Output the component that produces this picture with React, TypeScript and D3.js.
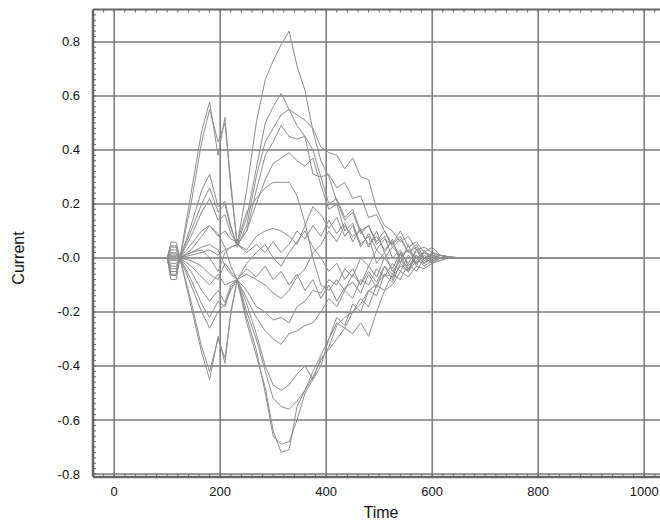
import React from "react";
import * as d3 from "d3";

// time samples shared by every trace
const T = [10, 100, 107, 117, 124, 145, 165, 180, 196, 209, 220, 232, 250, 268, 285, 300, 315, 330, 345, 360, 375, 390, 405, 420, 435, 450, 465, 480, 495, 510, 525, 540, 555, 570, 585, 600, 615, 630, 645, 665, 700, 1000];

const sA = [0, 0, 0.058, 0.058, 0, 0.24, 0.47, 0.577, 0.38, 0.52, 0.26, 0.05, 0.25, 0.5, 0.66, 0.73, 0.79, 0.84, 0.71, 0.62, 0.47, 0.36, 0.3, 0.21, 0.14, 0.17, 0.09, 0.12, 0.06, 0.1, 0.04, 0.07, 0.02, 0.05, 0.0, 0.02, 0.01, 0.005, 0.002, 0, 0, 0];
const sB = [0, 0, 0.045, 0.045, 0, 0.2, 0.43, 0.55, 0.43, 0.5, 0.28, 0.05, 0.15, 0.33, 0.5, 0.56, 0.61, 0.55, 0.53, 0.51, 0.48, 0.41, 0.39, 0.38, 0.33, 0.37, 0.3, 0.29, 0.18, 0.12, 0.1, 0.06, 0.08, 0.03, 0.04, 0.02, 0.01, 0.005, 0.002, 0, 0, 0];
const sC = [0, 0, 0.04, 0.04, 0, 0.12, 0.25, 0.31, 0.19, 0.21, 0.12, 0.04, 0.12, 0.3, 0.43, 0.48, 0.53, 0.55, 0.49, 0.45, 0.4, 0.3, 0.31, 0.26, 0.28, 0.22, 0.23, 0.15, 0.16, 0.1, 0.05, 0.08, 0.02, 0.04, -0.01, 0.01, 0.0, 0.0, 0, 0, 0, 0];
const sD = [0, 0, 0.03, 0.03, 0, 0.1, 0.2, 0.26, 0.17, 0.2, 0.11, 0.05, 0.1, 0.25, 0.38, 0.43, 0.49, 0.45, 0.44, 0.45, 0.31, 0.3, 0.2, 0.22, 0.15, 0.18, 0.1, 0.12, 0.05, 0.08, 0.0, 0.03, -0.03, 0.01, -0.02, 0.0, 0.01, 0.0, 0, 0, 0, 0];
const sE = [0, 0, 0.02, 0.02, 0, 0.08, 0.17, 0.22, 0.14, 0.16, 0.09, 0.05, 0.1, 0.2, 0.29, 0.35, 0.37, 0.39, 0.36, 0.34, 0.37, 0.27, 0.18, 0.2, 0.1, 0.13, 0.05, 0.08, -0.02, 0.02, -0.05, -0.01, -0.04, 0.0, -0.03, -0.01, 0.0, 0.0, 0, 0, 0, 0];
const sF = [0, 0, 0.015, 0.015, 0, 0.05, 0.1, 0.12, 0.08, 0.1, 0.07, 0.06, 0.17, 0.22, 0.26, 0.28, 0.28, 0.28, 0.23, 0.13, 0.0, -0.1, -0.12, -0.08, -0.12, -0.06, -0.1, -0.03, -0.07, 0.0, -0.04, 0.02, -0.02, 0.03, 0.0, 0.01, 0.0, 0.0, 0, 0, 0, 0];
const sG = [0, 0, 0.01, 0.01, 0, 0.02, 0.03, 0.0, -0.05, 0.02, 0.04, 0.05, 0.03, 0.08, 0.1, 0.11, 0.1, 0.08, 0.05, 0.12, 0.19, 0.16, 0.11, 0.15, 0.08, 0.12, 0.04, 0.09, 0.03, 0.07, 0.05, 0.1, 0.04, 0.06, 0.02, 0.04, 0.01, 0.005, 0, 0, 0, 0];
const sI = [0, 0, 0.005, 0.005, 0, 0.01, 0.02, 0.03, 0.01, 0.03, 0.04, 0.05, 0.02, 0.05, 0.02, 0.06, 0.02, 0.05, 0.1, 0.07, 0.12, 0.08, 0.14, 0.09, 0.13, 0.06, 0.11, 0.04, 0.1, 0.02, 0.07, -0.02, 0.05, -0.03, 0.03, -0.02, 0.01, 0.0, 0, 0, 0, 0];
const sa = [0, 0, -0.08, -0.08, 0, -0.18, -0.35, -0.45, -0.29, -0.39, -0.2, -0.08, -0.24, -0.36, -0.48, -0.64, -0.72, -0.71, -0.55, -0.49, -0.44, -0.38, -0.33, -0.25, -0.22, -0.2, -0.17, -0.12, -0.1, -0.06, -0.07, -0.03, -0.05, -0.01, -0.02, 0.0, -0.01, 0.0, 0, 0, 0, 0];
const sb = [0, 0, -0.065, -0.065, 0, -0.16, -0.33, -0.42, -0.3, -0.37, -0.21, -0.08, -0.22, -0.34, -0.5, -0.66, -0.69, -0.68, -0.6, -0.5, -0.45, -0.37, -0.34, -0.3, -0.26, -0.28, -0.24, -0.29, -0.2, -0.12, -0.1, -0.05, -0.07, -0.03, -0.04, -0.02, -0.01, 0.0, 0, 0, 0, 0];
const sc = [0, 0, -0.06, -0.06, 0, -0.1, -0.2, -0.26, -0.2, -0.17, -0.12, -0.08, -0.2, -0.3, -0.42, -0.52, -0.55, -0.56, -0.53, -0.49, -0.42, -0.36, -0.3, -0.24, -0.26, -0.2, -0.15, -0.18, -0.1, -0.12, -0.06, -0.08, -0.02, -0.05, 0.0, -0.02, 0.0, 0.0, 0, 0, 0, 0];
const sd = [0, 0, -0.05, -0.05, 0, -0.08, -0.17, -0.22, -0.16, -0.18, -0.11, -0.08, -0.17, -0.28, -0.4, -0.47, -0.49, -0.47, -0.43, -0.4, -0.45, -0.4, -0.3, -0.22, -0.25, -0.17, -0.2, -0.12, -0.14, -0.06, -0.09, -0.02, -0.05, 0.01, -0.02, 0.0, 0.0, 0.0, 0, 0, 0, 0];
const se = [0, 0, -0.04, -0.04, 0, -0.05, -0.12, -0.16, -0.12, -0.165, -0.1, -0.08, -0.15, -0.22, -0.27, -0.3, -0.32, -0.28, -0.27, -0.25, -0.24, -0.2, -0.15, -0.18, -0.12, -0.15, -0.08, -0.1, -0.04, -0.07, -0.02, -0.05, 0.01, -0.02, 0.02, 0.0, 0.0, 0.0, 0, 0, 0, 0];
const sf = [0, 0, -0.03, -0.03, 0, -0.03, -0.07, -0.1, -0.06, -0.1, -0.09, -0.08, -0.12, -0.18, -0.2, -0.23, -0.22, -0.24, -0.18, -0.16, -0.12, -0.13, -0.08, -0.1, -0.04, -0.07, 0.0, -0.03, 0.03, 0.0, 0.04, 0.01, 0.03, 0.0, 0.02, 0.01, 0.0, 0.0, 0, 0, 0, 0];
const sg = [0, 0, -0.02, -0.02, 0, 0.02, 0.04, 0.05, 0.03, -0.03, -0.06, -0.08, -0.06, -0.08, -0.1, -0.13, -0.15, -0.12, -0.07, -0.04, 0.02, 0.05, 0.1, 0.06, 0.12, 0.08, 0.1, 0.05, 0.08, 0.03, 0.06, 0.0, 0.03, -0.02, 0.01, -0.01, 0.0, 0.0, 0, 0, 0, 0];
const sh = [0, 0, -0.01, -0.01, 0, 0.03, 0.08, 0.12, 0.09, 0.04, -0.03, -0.08, -0.02, 0.02, 0.05, 0.0, -0.03, 0.02, 0.06, 0.1, 0.04, 0.0, -0.05, -0.02, -0.08, -0.04, -0.1, -0.05, -0.09, -0.03, -0.06, 0.0, -0.04, 0.01, -0.02, 0.0, 0.0, 0.0, 0, 0, 0, 0];
const si = [0, 0, -0.005, -0.005, 0, -0.01, -0.03, -0.06, -0.08, -0.02, -0.05, -0.08, -0.04, -0.07, -0.03, -0.08, -0.05, -0.1, -0.06, -0.12, -0.08, -0.15, -0.1, -0.16, -0.11, -0.09, -0.13, -0.06, -0.11, -0.03, -0.08, 0.02, -0.05, 0.03, -0.02, 0.02, 0.0, 0.0, 0, 0, 0, 0];

const SERIES = [sA, sB, sC, sD, sE, sF, sG, sI, sa, sb, sc, sd, se, sf, sg, sh, si];

const X_TICKS = [0, 200, 400, 600, 800, 1000];
const X_LABELS = ["0", "200", "400", "600", "800", "1000"];
const Y_TICKS = [-0.8, -0.6, -0.4, -0.2, 0, 0.2, 0.4, 0.6, 0.8];
const Y_LABELS = ["-0.8", "-0.6", "-0.4", "-0.2", "-0.0", "0.2", "0.4", "0.6", "0.8"];

export default function App() {
  const W = 660, H = 527;
  const left = 93, top = 9.5, bottom = 477, right = 665.4;
  const x = d3.scaleLinear().domain([-40, 1040]).range([left, right]);
  const y = d3.scaleLinear().domain([-0.811, 0.92]).range([bottom, top]);
  const line = d3.line<number>().x((_, i) => x(T[i])).y((v) => y(v));
  const xMinor = d3.range(-40, 1041, 20);
  const yMinor = d3.range(-80, 93, 2).map((v) => v / 100);
  const font = "Liberation Sans, Arial, sans-serif";
  const grid = "#7a7a7a";
  const frame = "#666";
  return (
    <svg width={W} height={H} style={{ position: "absolute", left: 0, top: 0, background: "#fff" }}>
      <rect x={0} y={0} width={W} height={H} fill="#fff" />
      {X_TICKS.map((t) => (
        <line key={"gx" + t} x1={x(t)} x2={x(t)} y1={top} y2={bottom} stroke={grid} strokeWidth={1.5} />
      ))}
      {Y_TICKS.map((t) => (
        <line key={"gy" + t} x1={left} x2={W} y1={y(t)} y2={y(t)} stroke={grid} strokeWidth={1.5} />
      ))}
      {xMinor.map((t) => (
        <g key={"mx" + t}>
          <line x1={x(t)} x2={x(t)} y1={bottom} y2={bottom - 3} stroke={frame} strokeWidth={1} />
          <line x1={x(t)} x2={x(t)} y1={top} y2={top + 3} stroke={frame} strokeWidth={1} />
        </g>
      ))}
      {yMinor.map((t) => (
        <line key={"my" + t} x1={left} x2={left + 3} y1={y(t)} y2={y(t)} stroke={frame} strokeWidth={1} />
      ))}
      {SERIES.map((s, i) => (
        <path key={"s" + i} d={line(s) || ""} fill="none" stroke="#8e8e8e" strokeWidth={1} />
      ))}
      <line x1={left} x2={W} y1={top} y2={top} stroke={frame} strokeWidth={2} />
      <line x1={left} x2={W} y1={bottom} y2={bottom} stroke={frame} strokeWidth={2.5} />
      <line x1={left} x2={left} y1={top} y2={bottom} stroke={frame} strokeWidth={2.5} />
      {Y_TICKS.map((t, i) => (
        <text key={"ly" + t} x={80} y={y(t) + 4.5} textAnchor="end" fontFamily={font} fontSize={13} fill="#111">
          {Y_LABELS[i]}
        </text>
      ))}
      {X_TICKS.map((t, i) => (
        <text key={"lx" + t} x={x(t)} y={496} textAnchor="middle" fontFamily={font} fontSize={13} fill="#111">
          {X_LABELS[i]}
        </text>
      ))}
      <text x={381} y={518} textAnchor="middle" fontFamily={font} fontSize={16} fill="#111">
        Time
      </text>
      <text transform="translate(24,258) rotate(-90)" textAnchor="middle" fontFamily={font} fontSize={16} fill="#111">
        Current
      </text>
    </svg>
  );
}
